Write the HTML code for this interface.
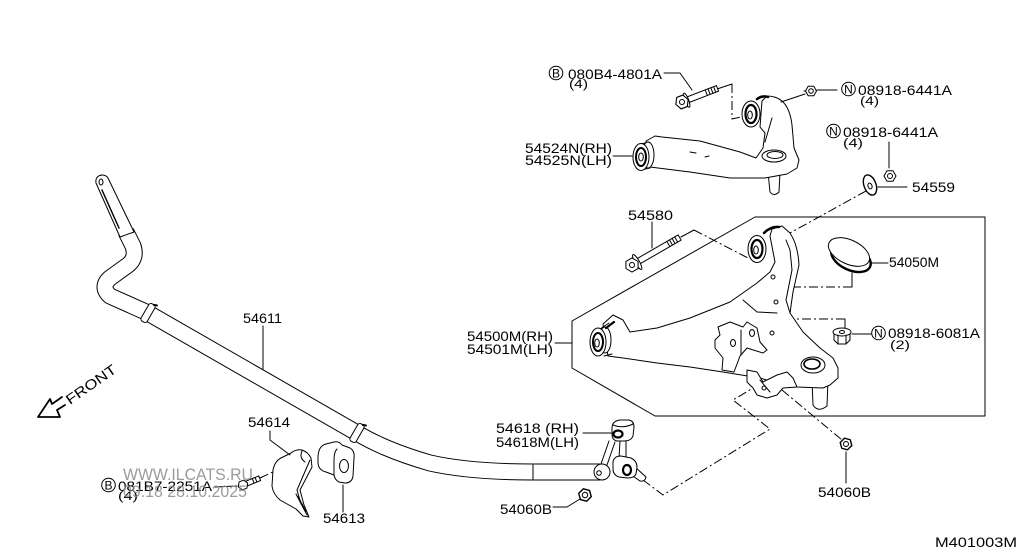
<!DOCTYPE html>
<html><head><meta charset="utf-8"><style>
html,body{margin:0;padding:0;background:#fff;}
svg{display:block}
text{font-family:"Liberation Sans",sans-serif;fill:#000}
</style></head><body>
<svg width="1024" height="560" viewBox="0 0 1024 560" xmlns="http://www.w3.org/2000/svg">
<rect width="1024" height="560" fill="#fff"/>
<g fill="none" stroke="#000" stroke-width="1" stroke-linejoin="round" stroke-linecap="round">

<!-- lower arm box -->
<polygon points="755,217 985,217 985,416 655,416 572,368 572,321"/>

<!-- dash-dot lines -->
<g stroke-dasharray="9,3,2,3" stroke-linecap="butt">
<path d="M732,84 L732,119 L741,117"/>
<path d="M866,191 L790,233"/>
<path d="M694,230 L748,258"/>
<path d="M852,287 L780,287 L780,298"/>
<path d="M845,319 L777,319 L777,311"/>
<path d="M643,480 L663,495 L770,429 L733,400 L753,388"/>
<path d="M782,390 L842,440"/>
<path d="M260,478 L277,470"/>
</g>
<path d="M717,89 L732,84"/>
<path d="M681,237 L694,230"/>
<path d="M852,273 L852,287"/>
<path d="M845,328 L845,319"/>

<!-- ===== Upper arm ===== -->
<path d="M768,172 L770,192 Q774,197 779,192 L780,172 Z" fill="#fff"/>
<path d="M646,141 L655,136 L662,137 L700,141 L740,152 L756,158 L763,148 L765,133 L760,127 L762,101 L767,96 Q776,96 782,101 Q790,108 792,125 L794,148 L799,160 L797,168 L787,174 L765,178 L730,178 L690,172 L650,167 Z" fill="#fff"/>
<path d="M772,118 L765,142"/>
<path d="M690,152 L696,153 M705,157 L709,156"/>
<ellipse cx="774" cy="156" rx="12" ry="6" fill="#fff"/>
<ellipse cx="775" cy="155" rx="8" ry="3.5"/>
<!-- rear bushing upper -->
<ellipse cx="751" cy="114" rx="9" ry="13" fill="#fff"/>
<ellipse cx="751" cy="114" rx="5.5" ry="9" stroke-width="2.2"/>
<ellipse cx="750" cy="115" rx="2.3" ry="4"/>
<path d="M757,99 Q763,95 768,97" stroke-width="2.5"/>
<!-- front bushing upper -->
<path d="M641,144 L649,142 M641,170 L650,168"/>
<ellipse cx="648" cy="155" rx="6" ry="13" fill="#fff"/>
<ellipse cx="641" cy="157" rx="8" ry="13.5" fill="#fff"/>
<ellipse cx="641" cy="157" rx="5" ry="9" stroke-width="2"/>
<ellipse cx="641" cy="157" rx="2.3" ry="4"/>

<!-- bolt 080B4 -->
<g transform="translate(682,102) rotate(-21)">
<rect x="5" y="-3" width="33" height="6" fill="#fff"/>
<path d="M26,-3 L26,3 M29,-3 L29,3 M32,-3 L32,3 M35,-3 L35,3"/>
<ellipse cx="5" cy="0" rx="2" ry="7.5" fill="#fff"/>
<polygon points="6,0 3,5.6 -3,5.6 -6,0 -3,-5.6 3,-5.6" transform="scale(1.1)" fill="#fff"/>
<circle r="2.5"/>
</g>
<!-- nut top 6441A -->
<g transform="translate(811,91)">
<polygon points="5.5,0 2.8,4.8 -2.8,4.8 -5.5,0 -2.8,-4.8 2.8,-4.8" fill="#fff"/>
<circle r="2.3"/>
<path d="M-5.5,0 L-7,0"/>
</g>
<!-- nut 2 and washer -->
<g transform="translate(890,176)">
<polygon points="6,0 3,5.2 -3,5.2 -6,0 -3,-5.2 3,-5.2" fill="#fff"/>
<circle r="2.5"/>
</g>
<ellipse cx="870" cy="185" rx="6" ry="10.5" transform="rotate(-20 870 185)" fill="#fff" stroke-width="1.4"/>
<ellipse cx="870" cy="186" rx="2" ry="3" transform="rotate(-20 870 186)"/>

<!-- ===== Lower arm ===== -->
<path d="M812,380 L813,405 Q818,413 827,406 L828,380 Z" fill="#fff"/>
<path d="M603,324 L613,315 L623,320 L630,332 L657,328 L690,318 L730,302 L757,283 L770,272 L775,262 L770,236 L772,229 L782,226 L790,233 Q798,245 799,265 L793,292 L790,313 L803,332 L820,348 L833,358 L838,368 L838,378 L830,385 L823,388 L797,387 L783,385 L760,378 L723,372 L690,367 L657,363 L623,358 L608,356 Z" fill="#fff"/>
<path d="M743,300 L757,312 L777,313"/>
<path d="M786,240 L790,250 L792,270 L786,300 L790,313"/>
<circle cx="773" cy="277" r="2"/>
<circle cx="776" cy="302" r="2"/>
<circle cx="772" cy="333" r="2"/>
<!-- ball joint boss -->
<ellipse cx="813" cy="365" rx="12" ry="8" fill="#fff"/>
<ellipse cx="812" cy="364" rx="8" ry="5" stroke-width="1.6"/>
<!-- shock bracket -->
<path d="M718,327 L730,322 L743,327 L747,322 L757,328 L760,342 L767,350 L763,353 L747,348 L740,356 L734,372 L722,370 L723,358 L715,348 L715,340 L720,335 Z" fill="#fff"/>
<path d="M741,330 L741,355"/>
<ellipse cx="733" cy="343" rx="2.5" ry="3.5"/>
<ellipse cx="752" cy="333" rx="2.5" ry="3.5"/>
<!-- link bracket -->
<path d="M747,370 L757,372 L763,382 L777,375 L787,372 L793,378 L797,387 L783,388 L777,395 L767,398 L757,395 L753,388 L747,382 Z" fill="#fff"/>
<circle cx="764" cy="388" r="2"/>
<path d="M760,380 L770,392"/>
<!-- rear bushing lower -->
<ellipse cx="757" cy="249" rx="9" ry="13.5" fill="#fff"/>
<ellipse cx="757" cy="249" rx="5.5" ry="9" stroke-width="2.2"/>
<ellipse cx="756" cy="250" rx="2.3" ry="4"/>
<path d="M764,233 Q771,226 779,227" stroke-width="2.5"/>
<!-- front bushing lower -->
<path d="M600,329 L609,323 M604,356 L612,354"/>
<ellipse cx="605" cy="340" rx="6" ry="13" fill="#fff"/>
<ellipse cx="598" cy="342" rx="8" ry="14" fill="#fff"/>
<ellipse cx="598" cy="342" rx="5" ry="9" stroke-width="2"/>
<ellipse cx="597" cy="343" rx="2.3" ry="4"/>
<path d="M606,328 L614,322" stroke-width="2.2"/>

<!-- bolt 54580 -->
<g transform="translate(632,265) rotate(-30)">
<rect x="6" y="-3" width="49" height="6" fill="#fff"/>
<path d="M42,-3 L42,3 M45,-3 L45,3 M48,-3 L48,3 M51,-3 L51,3"/>
<ellipse cx="6" cy="0" rx="2.2" ry="8.5" fill="#fff"/>
<polygon points="7,0 3.5,6.1 -3.5,6.1 -7,0 -3.5,-6.1 3.5,-6.1" fill="#fff"/>
<circle r="2.5"/>
</g>

<!-- cap 54050M -->
<ellipse cx="851" cy="258" rx="21" ry="12" transform="rotate(25 851 258)" fill="#fff" stroke-width="2.4"/>
<ellipse cx="849" cy="252" rx="22" ry="12" transform="rotate(25 849 252)" fill="#fff"/>

<!-- nut 6081A -->
<g transform="translate(842,336)">
<path d="M-8,-4 L-8,4 L-4,8 L4,8 L8,4 L8,-4" fill="#fff"/>
<ellipse cx="0" cy="-4" rx="9" ry="4" fill="#fff"/>
<ellipse cx="0" cy="-4" rx="2.5" ry="1.5"/>
<path d="M-4,-1 L-4,8 M4,-1 L4,8"/>
</g>

<!-- nut 54060B right -->
<g transform="translate(846,444) rotate(15)">
<polygon points="6,0 3,5.2 -3,5.2 -6,0 -3,-5.2 3,-5.2" fill="#fff" stroke-width="1.4"/>
<circle r="2.5"/>
</g>

<!-- ===== Stabilizer bar ===== -->
<path d="M126,232 L133,246 Q137,258 128,265 L110,278 Q100,287 110,296 L148,313 L357,433 Q385,450 430,463 Q470,472 533,472 L600,472" stroke-width="17" stroke-linecap="butt"/>
<path d="M126,232 L133,246 Q137,258 128,265 L110,278 Q100,287 110,296 L148,313 L357,433 Q385,450 430,463 Q470,472 533,472 L600,472" stroke="#fff" stroke-width="15" stroke-linecap="butt"/>
<path d="M533,465 L533,480"/>
<path d="M96,183 Q95,176 102,175 Q106,175 108,178 L134,232 L120,237 Z" fill="#fff"/>
<path d="M102,190 L119,228" stroke-dasharray="1.5,1.2" stroke-width="1.5"/>
<ellipse cx="101" cy="182" rx="2" ry="3"/>
<g transform="translate(148,313) rotate(30)">
<rect x="-3.5" y="-10" width="7" height="20" rx="2.5" fill="#fff"/>
<path d="M1,-10 L4,-11" stroke-width="2"/>
</g>
<g transform="translate(357,433) rotate(30)">
<rect x="-3.5" y="-10" width="7" height="20" rx="2.5" fill="#fff"/>
<path d="M1,-10 L4,-11" stroke-width="2"/>
</g>
<!-- bar eye -->
<circle cx="602" cy="472" r="8" fill="#fff"/>
<circle cx="599" cy="473" r="2.3"/>

<!-- link 54618 -->
<path d="M609,441 L601,464 M615,442 L607,465"/>
<path d="M620,441 L619,458 M626,441 L626,458"/>
<path d="M612,428 Q612,421 620,420 L629,420 Q634,421 634,427 L633,436 Q631,441 624,441 L617,441 Q612,440 612,434 Z" fill="#fff"/>
<path d="M613,425 Q623,429 633,424"/>
<ellipse cx="618" cy="434" rx="4.5" ry="3.5" stroke-width="2.2"/>
<path d="M634,466 L646,477 Q645,482 640,481 L630,474 Z" fill="#fff"/>
<path d="M613,462 Q614,456 621,456 L631,458 Q637,461 637,467 L636,474 Q634,478 628,478 L619,477 Q613,475 613,469 Z" fill="#fff"/>
<ellipse cx="627" cy="470" rx="4" ry="5" stroke-width="2.2"/>

<!-- nut 54060B left -->
<g transform="translate(585,495) rotate(15)">
<polygon points="6.5,0 3.2,5.6 -3.2,5.6 -6.5,0 -3.2,-5.6 3.2,-5.6" fill="#fff" stroke-width="1.4"/>
<circle r="2.7"/>
</g>

<!-- bushing 54613 -->
<path d="M318,458 Q318,446 326,444 L334,442 Q339,441 342,445 L350,448 Q355,451 354,458 L353,476 Q352,483 345,483 L339,482 Q335,480 334,475 L326,472 Q318,470 318,462 Z" fill="#fff"/>
<path d="M337,449 Q334,452 334,460 L334,475"/>
<ellipse cx="344" cy="466" rx="4.5" ry="6.5"/>

<!-- clamp 54614 -->
<path d="M273,470 Q275,460 283,457 L291,453 Q296,449 302,450 Q308,452 311,458 L312,467 L300,490 L304,505 L309,517 L303,516 L296,509 L280,500 Q273,494 272,486 Z" fill="#fff"/>
<path d="M302,451 Q299,458 305,462 M310,460 L297,490 L301,504 M296,494 L307,515"/>
<path d="M298,497 L306,512" stroke-width="1.6" stroke-dasharray="2,1.5"/>

<!-- bolt 081B7 -->
<g transform="translate(243,485) rotate(-22)">
<rect x="4" y="-2.5" width="14" height="5" fill="#fff"/>
<path d="M11,-2.5 L11,2.5 M14,-2.5 L14,2.5"/>
<polygon points="5,0 2.5,4.3 -2.5,4.3 -5,0 -2.5,-4.3 2.5,-4.3" fill="#fff"/>
</g>

<!-- leaders -->
<path d="M664,73 L680,73 L692,90"/>
<path d="M837,90 L817,90"/>
<path d="M805,94 L781,102"/>
<path d="M889,142 L889,168"/>
<path d="M878,187 L907,187"/>
<path d="M613,156 L632,156"/>
<path d="M652,222 L652,248"/>
<path d="M870,263 L888,263"/>
<path d="M852,334 L871,334"/>
<path d="M555,343 L572,343"/>
<path d="M263,326 L263,369"/>
<path d="M270,431 L270,440 L290,455"/>
<path d="M343,485 L343,512"/>
<path d="M215,487 L237,486"/>
<path d="M583,433 L611,433"/>
<path d="M553,507 L567,507 L580,499"/>
<path d="M846,452 L846,483"/>

<!-- circled letters -->
<circle cx="556" cy="73" r="6.8"/>
<circle cx="848.5" cy="89" r="6.8"/>
<circle cx="833.5" cy="131" r="6.8"/>
<circle cx="878.5" cy="333" r="6.8"/>
<circle cx="108.5" cy="485" r="6.8"/>

<!-- FRONT arrow -->
<path d="M62,397 L52,404 L50,399 L38,417 L60,417 L57,410 L65,405" stroke-width="1.8"/>
</g>

<g font-size="12">
<text x="556" y="77.5" text-anchor="middle">B</text>
<text x="848.5" y="93.5" text-anchor="middle">N</text>
<text x="833.5" y="135.5" text-anchor="middle">N</text>
<text x="878.5" y="337.5" text-anchor="middle">N</text>
<text x="108.5" y="489.5" text-anchor="middle">B</text>
</g>

<g font-size="14">
<text x="568" y="79" textLength="94" lengthAdjust="spacingAndGlyphs">080B4-4801A</text>
<text x="858" y="95" textLength="94" lengthAdjust="spacingAndGlyphs">08918-6441A</text>
<text x="843" y="137" textLength="95" lengthAdjust="spacingAndGlyphs">08918-6441A</text>
<text x="525" y="153" textLength="87" lengthAdjust="spacingAndGlyphs">54524N(RH)</text>
<text x="525" y="165" textLength="87" lengthAdjust="spacingAndGlyphs">54525N(LH)</text>
<text x="912" y="192" textLength="43" lengthAdjust="spacingAndGlyphs">54559</text>
<text x="628" y="220" textLength="45" lengthAdjust="spacingAndGlyphs">54580</text>
<text x="889" y="267" textLength="50" lengthAdjust="spacingAndGlyphs">54050M</text>
<text x="888" y="338" textLength="92" lengthAdjust="spacingAndGlyphs">08918-6081A</text>
<text x="467" y="341" textLength="86" lengthAdjust="spacingAndGlyphs">54500M(RH)</text>
<text x="467" y="354" textLength="86" lengthAdjust="spacingAndGlyphs">54501M(LH)</text>
<text x="243" y="323" textLength="39" lengthAdjust="spacingAndGlyphs">54611</text>
<text x="248" y="427" textLength="42" lengthAdjust="spacingAndGlyphs">54614</text>
<text x="323" y="523" textLength="42" lengthAdjust="spacingAndGlyphs">54613</text>
<text x="118" y="491" textLength="94" lengthAdjust="spacingAndGlyphs">081B7-2251A</text>
<text x="496" y="433" textLength="83" lengthAdjust="spacingAndGlyphs">54618 (RH)</text>
<text x="496" y="447" textLength="83" lengthAdjust="spacingAndGlyphs">54618M(LH)</text>
<text x="500" y="514" textLength="52" lengthAdjust="spacingAndGlyphs">54060B</text>
<text x="818" y="497" textLength="53" lengthAdjust="spacingAndGlyphs">54060B</text>
<text x="935" y="547" textLength="82" lengthAdjust="spacingAndGlyphs">M401003M</text>
<text transform="translate(70,405) rotate(-35)" textLength="58" lengthAdjust="spacingAndGlyphs">FRONT</text>
</g>
<g font-size="11.5">
<text x="569" y="88" textLength="19" lengthAdjust="spacingAndGlyphs">(4)</text>
<text x="860" y="105" textLength="19" lengthAdjust="spacingAndGlyphs">(4)</text>
<text x="843" y="147" textLength="20" lengthAdjust="spacingAndGlyphs">(4)</text>
<text x="890" y="349" textLength="20" lengthAdjust="spacingAndGlyphs">(2)</text>
<text x="118" y="500" textLength="20" lengthAdjust="spacingAndGlyphs">(4)</text>
</g>

<!-- watermark -->
<g font-size="16.5" opacity="0.85">
<text x="123" y="480" textLength="130" lengthAdjust="spacingAndGlyphs" style="fill:#8a8a8a">WWW.ILCATS.RU</text>
<text x="123" y="497" textLength="124" lengthAdjust="spacingAndGlyphs" style="fill:#8a8a8a">09.18 28.10.2025</text>
</g>
</svg>
</body></html>
